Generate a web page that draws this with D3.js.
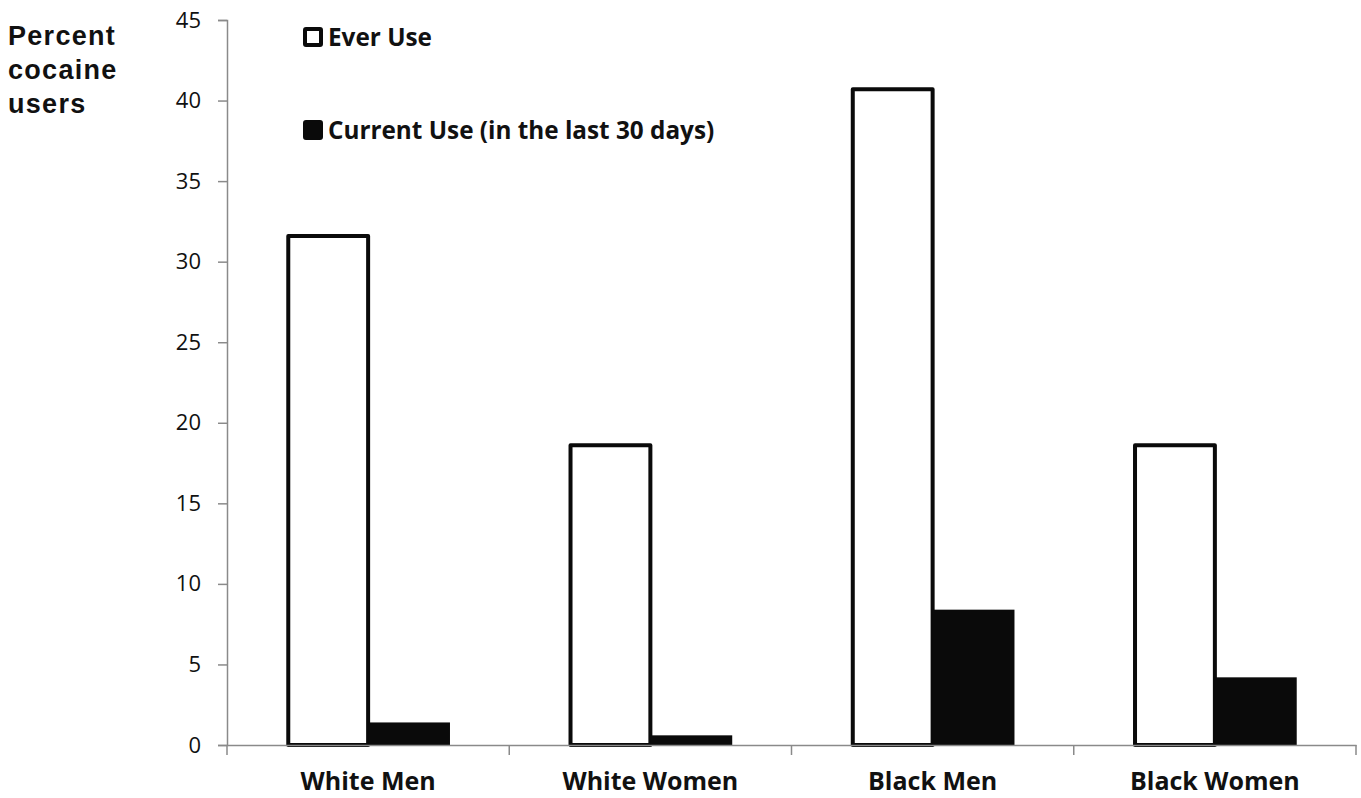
<!DOCTYPE html>
<html>
<head>
<meta charset="utf-8">
<script src="https://cdn.jsdelivr.net/npm/d3@7"></script>
<style>
  body { margin: 0; background: #fff; }
  svg { display: block; }
</style>
</head>
<body>
<div id="chart"></div>
<script>
// categories and series values
var groups = ["White Men", "White Women", "Black Men", "Black Women"];
var series = ["Ever Use", "Current Use (in the last 30 days)"];
var everUse = [31.6, 18.6, 40.7, 18.6];
var currentUse = [1.4, 0.6, 8.4, 4.2];
var yTicks = [0, 5, 10, 15, 20, 25, 30, 35, 40, 45];

var width = 1361,
    height = 798,
    margin = { top: 20, right: 5, bottom: 53, left: 227 },
    chartWidth = width - margin.left - margin.right,
    chartHeight = height - margin.top - margin.bottom,
    axisColour = "#8a8a8a",
    tickFont = "'Open Sans', Lato, sans-serif";

var svg = d3.select("#chart").append("svg")
    .attr("width", width)
    .attr("height", height);

var g = svg.append("g")
    .attr("transform", "translate(" + margin.left + "," + margin.top + ")");

var x0 = d3.scaleBand().domain(groups).range([0, chartWidth]).paddingInner(0).paddingOuter(0);
var x1 = d3.scaleBand().domain(series).range([0, x0.bandwidth() * 0.58]);
var y = d3.scaleLinear().domain([0, 45]).range([chartHeight, 0]);

// empty space left of each bar pair inside its category
var offset = x0.bandwidth() * 0.21;

var bars = [];
groups.forEach(function (name, i) {
    bars.push({ group: name, s: series[0], v: everUse[i] });
    bars.push({ group: name, s: series[1], v: currentUse[i] });
});

// y axis
var yAxis = g.append("g")
    .call(d3.axisLeft(y).tickValues(yTicks).tickSize(9).tickPadding(17));
yAxis.select(".domain").attr("stroke", axisColour).attr("stroke-width", 1.5);
yAxis.selectAll(".tick line").attr("stroke", axisColour).attr("stroke-width", 1.5);
yAxis.selectAll(".tick text")
    .style("font-family", tickFont)
    .style("font-size", "22px")
    .attr("fill", "#111");

// bars
g.selectAll("rect.bar")
    .data(bars)
    .enter().append("rect")
    .attr("class", "bar")
    .attr("x", function (d) { return x0(d.group) + offset + x1(d.s) + (d.s === series[0] ? 2 : 0); })
    .attr("y", function (d) { return y(d.v); })
    .attr("width", function (d) { return x1.bandwidth() - (d.s === series[0] ? 2 : 0); })
    .attr("height", function (d) { return y(0) - y(d.v); })
    .attr("fill", function (d) { return d.s === series[0] ? "#fff" : "#0a0a0a"; })
    .attr("stroke", "#0a0a0a")
    .attr("stroke-width", function (d) { return d.s === series[0] ? 4 : 0; })
    .attr("stroke-linejoin", "round");

// x axis
var xAxis = g.append("g")
    .attr("transform", "translate(0," + chartHeight + ")")
    .call(d3.axisBottom(x0).tickSize(0).tickPadding(27));
xAxis.select(".domain").attr("stroke", axisColour).attr("stroke-width", 1.5);
xAxis.selectAll(".tick text")
    .style("font-family", tickFont)
    .style("font-weight", "bold")
    .style("font-size", "25px")
    .attr("fill", "#111");

// category separators
g.selectAll("line.sep")
    .data(d3.range(groups.length + 1))
    .enter().append("line")
    .attr("class", "sep")
    .attr("x1", function (i) { return i * x0.step(); })
    .attr("x2", function (i) { return i * x0.step(); })
    .attr("y1", chartHeight)
    .attr("y2", chartHeight + 10)
    .attr("stroke", axisColour)
    .attr("stroke-width", 1.5);

// y title
svg.append("text")
    .attr("x", 8)
    .attr("y", 45)
    .style("font-family", "'Liberation Sans', Arial, sans-serif")
    .style("font-weight", "bold")
    .style("font-size", "27px")
    .style("letter-spacing", "1.3px")
    .attr("fill", "#111")
    .selectAll("tspan")
    .data(["Percent", "cocaine", "users"])
    .enter().append("tspan")
    .attr("x", 8)
    .attr("dy", function (d, i) { return i === 0 ? 0 : 34; })
    .text(function (d) { return d; });

// legend
var legend = svg.append("g").attr("transform", "translate(303,0)");
var legendY = [37, 130];
legend.selectAll("rect")
    .data(series)
    .enter().append("rect")
    .attr("x", 2)
    .attr("y", function (d, i) { return legendY[i] - 8; })
    .attr("width", 16)
    .attr("height", 16)
    .attr("rx", 1)
    .attr("fill", function (d, i) { return i === 0 ? "#fff" : "#0a0a0a"; })
    .attr("stroke", "#0a0a0a")
    .attr("stroke-width", 4);
legend.selectAll("text")
    .data(series)
    .enter().append("text")
    .attr("x", 25)
    .attr("y", function (d, i) { return legendY[i]; })
    .attr("dy", "0.35em")
    .style("font-family", tickFont)
    .style("font-weight", "bold")
    .style("font-size", "24.3px")
    .attr("fill", "#111")
    .text(function (d) { return d; });
</script>
</body>
</html>
